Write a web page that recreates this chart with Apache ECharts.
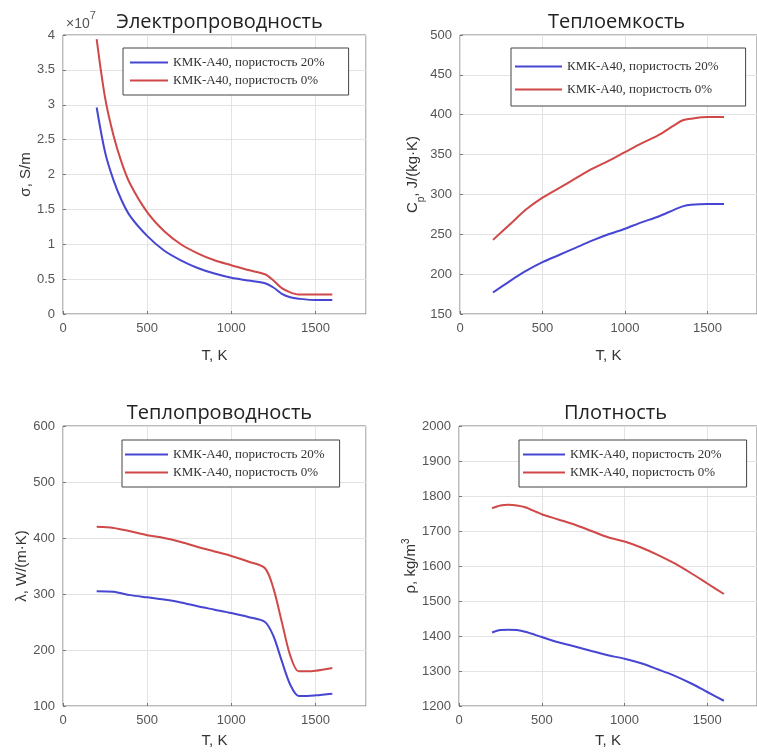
<!DOCTYPE html>
<html>
<head>
<meta charset="utf-8">
<script src="https://cdn.jsdelivr.net/npm/echarts@6/dist/echarts.min.js"></script>
<style>html,body{margin:0;padding:0;background:#fff;}#c{width:757px;height:755px;}</style>
</head>
<body>
<div id="c"></div>
<script>
// Temperature grid (K)
const tSigma = [200, 250, 300, 350, 400, 500, 600, 700, 800, 900, 1000, 1100, 1200, 1250, 1300, 1350, 1400, 1500, 1600];
// Electrical conductivity, ×10^7 S/m
const sigma20 = [2.96, 2.32, 1.92, 1.62, 1.40, 1.12, 0.91, 0.77, 0.66, 0.58, 0.52, 0.48, 0.44, 0.38, 0.29, 0.24, 0.22, 0.20, 0.20];
const sigma0  = [3.94, 3.10, 2.56, 2.16, 1.86, 1.46, 1.19, 1.00, 0.87, 0.77, 0.70, 0.63, 0.57, 0.48, 0.37, 0.31, 0.28, 0.28, 0.28];

const tCp = [200, 300, 400, 500, 600, 700, 800, 900, 1000, 1100, 1200, 1300, 1350, 1400, 1500, 1600];
const cp20 = [177, 191, 204, 215, 224, 233, 242, 250, 257, 265, 272, 281, 285, 287, 288, 288];
const cp0  = [243, 262, 281, 296, 308, 320, 332, 342, 353, 364, 374, 387, 393, 395, 397, 397];

const tLam = [200, 300, 400, 500, 600, 700, 800, 900, 1000, 1100, 1200, 1250, 1300, 1350, 1400, 1450, 1500, 1600];
const lam20 = [305, 304, 298, 294, 290, 285, 278, 272, 266, 259, 250, 225, 180, 138, 118, 118, 119, 122];
const lam0  = [420, 418, 412, 405, 400, 393, 384, 376, 368, 358, 346, 310, 250, 190, 162, 162, 163, 168];

const tRho = [200, 250, 300, 350, 400, 500, 600, 700, 800, 900, 1000, 1100, 1200, 1300, 1400, 1500, 1600];
const rho20 = [1410, 1417, 1418, 1417, 1412, 1397, 1382, 1370, 1357, 1345, 1335, 1322, 1305, 1287, 1265, 1240, 1215];
const rho0  = [1765, 1773, 1775, 1773, 1768, 1748, 1733, 1718, 1700, 1682, 1670, 1653, 1632, 1608, 1580, 1550, 1520];

const name20 = 'КМК-А40, пористость 20%';
const name0 = 'КМК-А40, пористость 0%';
const titles = ['Электропроводность', 'Теплоемкость', 'Теплопроводность', 'Плотность'];
const xTicks = {min: 0, max: 1800, interval: 500};
const yAxes = [
  {min: 0, max: 4, interval: 0.5, name: 'σ, S/m'},
  {min: 150, max: 500, interval: 50, name: 'C{sub|p}, J/(kg·K)'},
  {min: 100, max: 600, interval: 100, name: 'λ, W/(m·K)'},
  {min: 1200, max: 2000, interval: 100, name: 'ρ, kg/m{sup|3}'}
];

const BLUE = '#4646d2', RED = '#d04848';
const grids = [
  {left: 63, top: 35, width: 303, height: 279},
  {left: 460, top: 35, width: 303, height: 279},
  {left: 63, top: 426, width: 303, height: 280},
  {left: 459, top: 426, width: 303, height: 280}
];
const xNameGaps = [34, 34, 27, 27];
const yNameGaps = [30, 34, 30, 34];
const pairs = [[tSigma, sigma20, sigma0], [tCp, cp20, cp0], [tLam, lam20, lam0], [tRho, rho20, rho0]];
const zip = (xs, ys) => xs.map((x, i) => [x, ys[i]]);
const fmt = v => String(v);

const labelStyle = {color: '#555', fontSize: 13, fontFamily: 'Liberation Sans, Arial, sans-serif', formatter: fmt};
const option = {
  animation: false,
  backgroundColor: '#fff',
  title: grids.map((g, i) => ({
    text: titles[i], left: g.left + g.width / 2, top: i < 2 ? 7 : 398, textAlign: 'center',
    textStyle: {fontSize: 20, fontWeight: 'normal', color: '#222', fontFamily: 'Open Sans, Noto Sans, sans-serif'}
  })),
  grid: grids.map(g => Object.assign({show: true, borderColor: '#777', borderWidth: 1, backgroundColor: '#fff', containLabel: false}, g)),
  legend: [
    {left: 123, top: 48, itemWidth: 38, padding: [7, 24, 7, 7], itemGap: 3},
    {left: 511, top: 48, itemWidth: 47, padding: [11, 27, 9, 4], itemGap: 8},
    {left: 122, top: 440, itemWidth: 43, padding: [7, 15, 7, 3], itemGap: 3},
    {left: 519, top: 440, itemWidth: 42, padding: [7, 25, 7, 4], itemGap: 3}
  ].map((l, i) => Object.assign({
    orient: 'vertical', data: [name20, name0], icon: 'rect', itemHeight: 2,
    borderColor: '#444', borderWidth: 1, backgroundColor: '#fff',
    textStyle: {fontFamily: 'Liberation Serif, Times New Roman, serif', fontSize: 13, color: '#333', lineHeight: 15},
    selectedMode: false
  }, l)),
  xAxis: grids.map((g, i) => ({
    type: 'value', gridIndex: i, min: xTicks.min, max: xTicks.max, interval: xTicks.interval,
    name: 'T, K', nameLocation: 'middle', nameGap: xNameGaps[i],
    nameTextStyle: {fontSize: 15, color: '#333', fontFamily: 'Liberation Sans, Arial, sans-serif'},
    axisLine: {show: false}, axisTick: {show: true, inside: true, length: 3, lineStyle: {color: '#777'}},
    axisLabel: Object.assign({showMaxLabel: false, margin: 8}, labelStyle),
    splitLine: {show: true, lineStyle: {color: '#e3e3e3'}}
  })),
  yAxis: yAxes.map((y, i) => ({
    type: 'value', gridIndex: i, min: y.min, max: y.max, interval: y.interval,
    name: y.name, nameLocation: 'middle', nameGap: yNameGaps[i], nameRotate: 90,
    nameTextStyle: {fontSize: 15, color: '#333', fontFamily: 'Liberation Sans, Arial, sans-serif',
      rich: {sub: {fontSize: 10, verticalAlign: 'bottom', padding: [0, 0, -6, 0], color: '#333'},
             sup: {fontSize: 10, verticalAlign: 'top', padding: [-2, 0, 0, 0], color: '#333'}}},
    axisLine: {show: false}, axisTick: {show: true, inside: true, length: 3, lineStyle: {color: '#777'}},
    axisLabel: Object.assign({margin: 8}, labelStyle),
    splitLine: {show: true, lineStyle: {color: '#e3e3e3'}}
  })),
  series: pairs.flatMap((p, i) => [
    {type: 'line', name: name20, xAxisIndex: i, yAxisIndex: i, data: zip(p[0], p[1]), showSymbol: false, symbol: 'none', smooth: 0.3, lineStyle: {color: BLUE, width: 2}, itemStyle: {color: BLUE}},
    {type: 'line', name: name0, xAxisIndex: i, yAxisIndex: i, data: zip(p[0], p[2]), showSymbol: false, symbol: 'none', smooth: 0.3, lineStyle: {color: RED, width: 2}, itemStyle: {color: RED}}
  ]),
  graphic: [{
    type: 'text', left: 66, top: 10,
    style: {text: '×10{s|7}', rich: {s: {fontSize: 11, verticalAlign: 'top', padding: [-7, 0, 0, 0], fill: '#555'}},
      fontSize: 14, fill: '#555', fontFamily: 'Liberation Sans, Arial, sans-serif'}
  }]
};
echarts.init(document.getElementById('c')).setOption(option);
</script>
</body>
</html>
